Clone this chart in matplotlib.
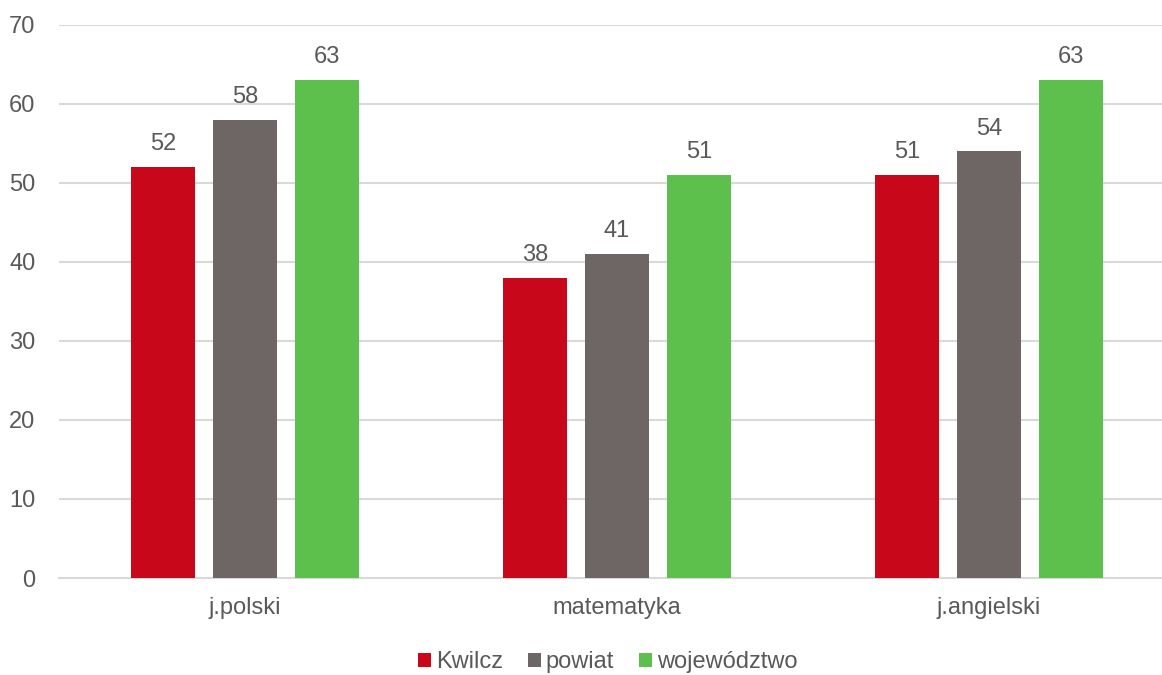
import matplotlib.pyplot as plt
import numpy as np

plt.rcParams['font.family'] = ['Liberation Sans', 'DejaVu Sans']

categories = ['j.polski', 'matematyka', 'j.angielski']
series_names = ['Kwilcz', 'powiat', 'województwo']
kwilcz = [52, 38, 51]
powiat = [58, 41, 54]
wojewodztwo = [63, 51, 63]
yticks = [0, 10, 20, 30, 40, 50, 60, 70]

colors = ['#C8081A', '#6E6565', '#5DBF4C']
text_color = '#595959'

fig = plt.figure(figsize=(11.62, 6.75), dpi=100)
# plot area runs a bit past the right edge, as in the original
ax = fig.add_axes([0.0508, 0.1437, 0.9604, 0.8193])

x = np.arange(len(categories))
width = 0.172
step = 0.2204
for i, (name, vals) in enumerate(zip(series_names, [kwilcz, powiat, wojewodztwo])):
    bars = ax.bar(x + (i - 1) * step, vals, width, color=colors[i], label=name, zorder=3)
    for b, v in zip(bars, vals):
        ax.text(b.get_x() + b.get_width() / 2, v + 1.5, str(v), ha='center', va='bottom',
                fontsize=17, color=text_color)

ax.set_xlim(-0.5, 2.5)
ax.set_ylim(0, 70)
ax.set_yticks(yticks)
ax.yaxis.grid(True, color='#D9D9D9', linewidth=1.5, zorder=0)
ax.set_axisbelow(True)
ax.set_xticks(x)
ax.set_xticklabels(categories)
ax.tick_params(axis='both', length=0, labelsize=17, labelcolor=text_color)
ax.tick_params(axis='x', pad=14)
ax.tick_params(axis='y', pad=17)
for s in ['top', 'right', 'left']:
    ax.spines[s].set_visible(False)
ax.spines['bottom'].set_color('#D9D9D9')
ax.spines['bottom'].set_linewidth(1.5)

leg = fig.legend(loc='center', bbox_to_anchor=(0.523, 0.019), ncol=3, frameon=False,
                 fontsize=17, handlelength=0.55, handleheight=0.55, handletextpad=0.22,
                 columnspacing=1.05, borderaxespad=0)
for t in leg.get_texts():
    t.set_color(text_color)

plt.savefig('out.png')
